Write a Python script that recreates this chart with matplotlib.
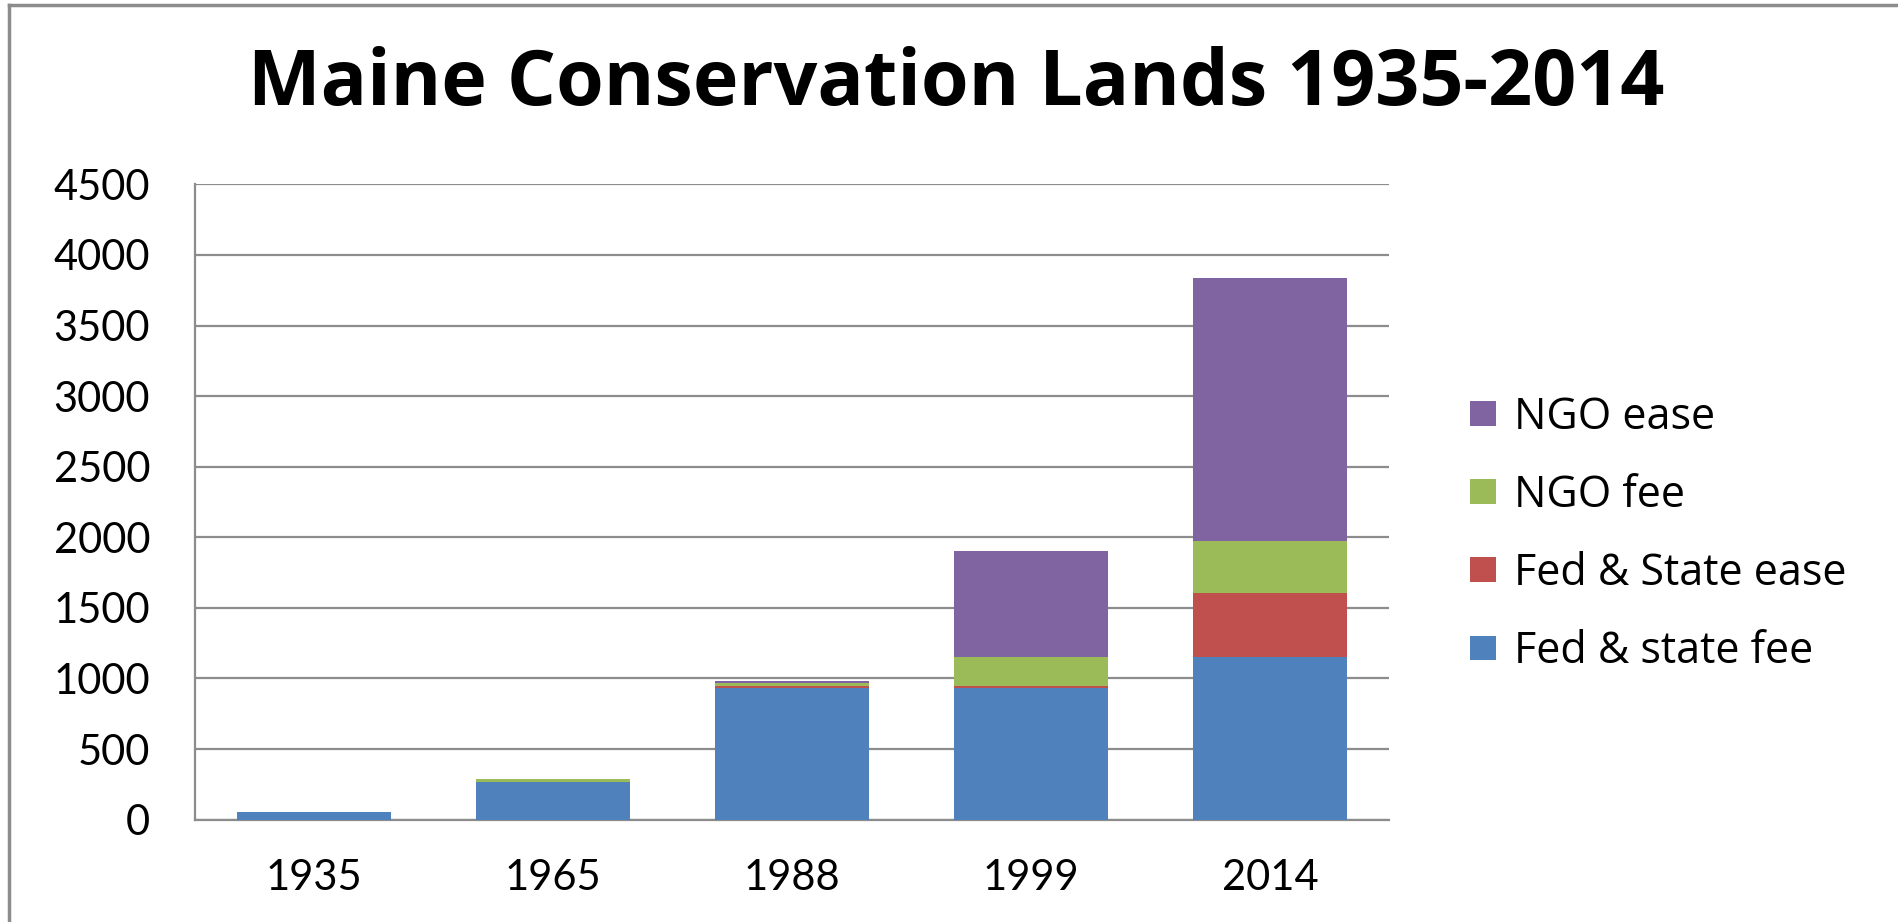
import matplotlib.pyplot as plt
import numpy as np
from matplotlib.lines import Line2D

plt.rcParams['font.family'] = ['Lato', 'DejaVu Sans']

years = ['1935', '1965', '1988', '1999', '2014']
series = ['Fed & state fee', 'Fed & State ease', 'NGO fee', 'NGO ease']
fed_state_fee = [52, 270, 935, 936, 1150]
fed_state_ease = [0, 0, 15, 14, 453]
ngo_fee = [0, 15, 15, 200, 371]
ngo_ease = [0, 0, 15, 755, 1860]
colors = ['#4F81BD', '#C0504D', '#9BBB59', '#8064A2']

fig = plt.figure(figsize=[18.98, 9.22], dpi=100)
ax = fig.add_axes([0.1025, 0.111, 0.6295, 0.689])

x = np.arange(len(years))
bottom = np.zeros(len(years))
handles = []
for vals, lab, col in zip([fed_state_fee, fed_state_ease, ngo_fee, ngo_ease], series, colors):
    b = ax.bar(x, vals, 0.645, bottom=bottom, color=col, label=lab, zorder=3, linewidth=0)
    bottom += np.array(vals)
    handles.append(b)

ax.set_xlim(-0.5, 4.5)
ax.set_ylim(0, 4500)
ax.set_yticks(np.arange(0, 4501, 500))
ax.set_xticks(x)
ax.set_xticklabels(years)
ax.yaxis.grid(True, color='#8c8c8c', linewidth=1.6, zorder=0)
ax.tick_params(axis='y', length=0, pad=32, labelsize=30)
ax.tick_params(axis='x', length=0, pad=28, labelsize=30)
for s in ['top', 'right']:
    ax.spines[s].set_visible(False)
ax.spines['left'].set_color('#8c8c8c')
ax.spines['bottom'].set_color('#8c8c8c')
ax.spines['left'].set_linewidth(1.6)
ax.spines['bottom'].set_linewidth(1.6)

fig.text(0.504, 0.908, 'Maine Conservation Lands 1935-2014', ha='center', va='center',
         fontsize=55.5, fontweight='bold', family='Open Sans')

leg = fig.legend(handles[::-1], series[::-1], loc='center left',
                 bbox_to_anchor=(0.754, 0.42), frameon=False,
                 prop={'family': 'Open Sans', 'size': 31},
                 handlelength=0.6, handleheight=0.5, handletextpad=0.42,
                 labelspacing=0.78)

# chart frame
fig.add_artist(Line2D([0.005, 0.005], [0, 0.995], transform=fig.transFigure, color='#8c8c8c', linewidth=2.5))
fig.add_artist(Line2D([0.005, 1.0], [0.995, 0.995], transform=fig.transFigure, color='#8c8c8c', linewidth=2.5))

fig.savefig('out.png', dpi=100)
